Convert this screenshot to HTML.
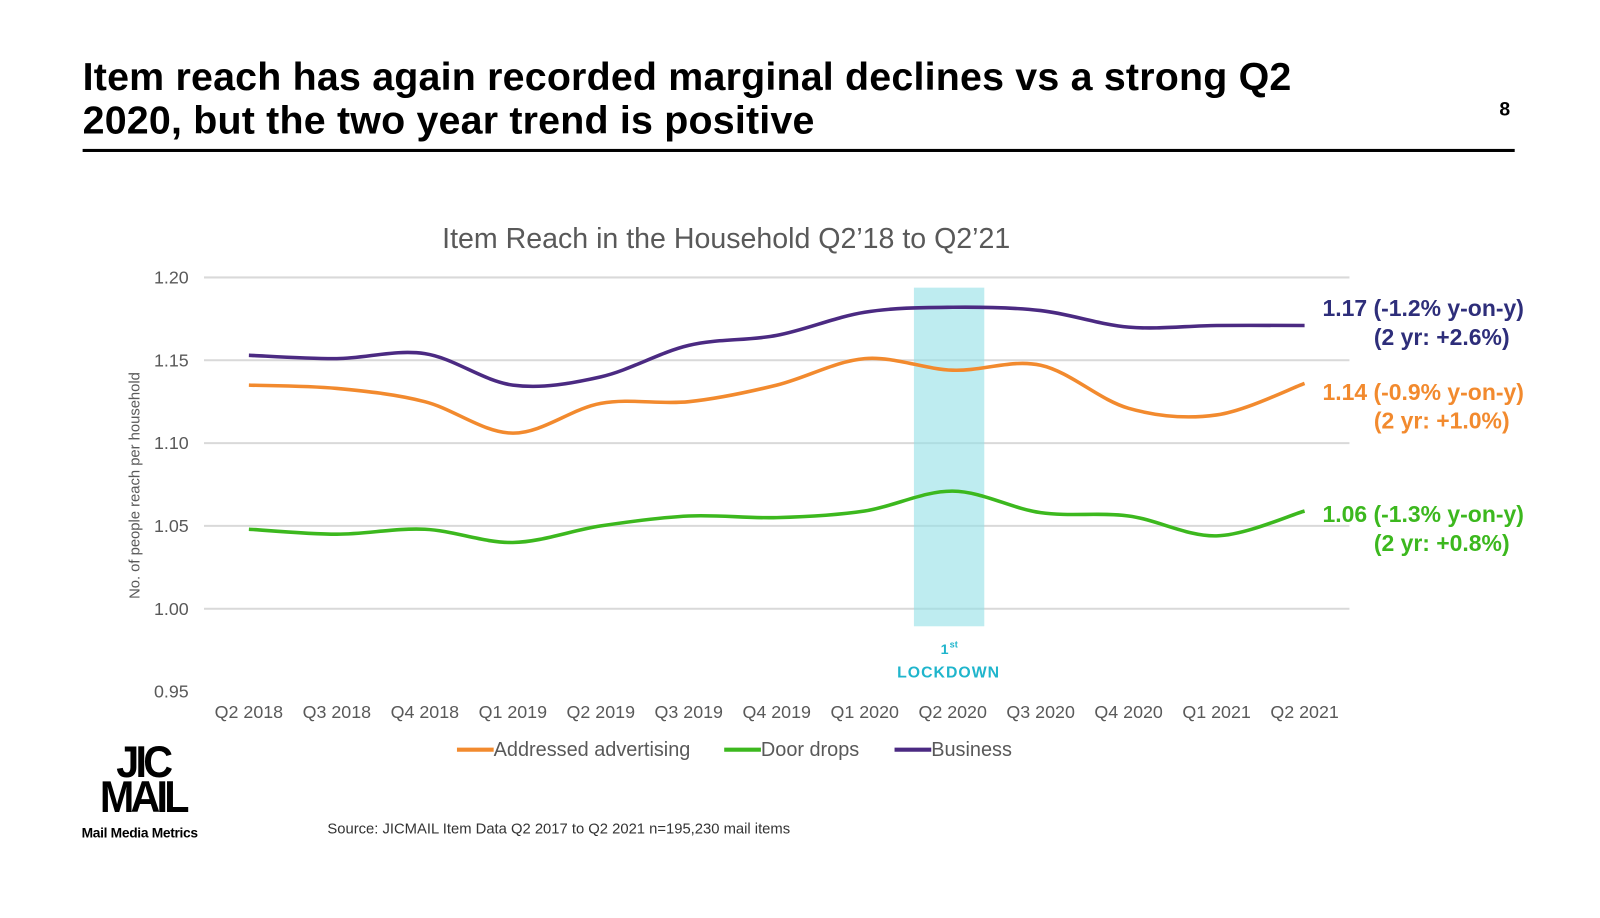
<!DOCTYPE html>
<html><head><meta charset="utf-8"><style>
body{margin:0;width:1600px;height:900px;background:#fff;font-family:"Liberation Sans",Arial,sans-serif;overflow:hidden;position:relative}
#wrap{position:absolute;left:0;top:0;width:1600px;height:900px;transform:scale(1.02);transform-origin:0 0}
.abs{position:absolute}
</style></head><body>
<div id="wrap">
<div class="abs" style="left:81px;top:54px;font-size:38.6px;font-weight:bold;line-height:43px;color:#000;letter-spacing:0.2px">Item reach has again recorded marginal declines vs a strong Q2<br>2020, but the two year trend is positive</div>
<div class="abs" style="left:1470px;top:97px;font-size:19px;font-weight:bold">8</div>
<div class="abs" style="left:81px;top:146px;width:1404px;height:3px;background:#000"></div>
<svg class="abs" style="left:0;top:0" width="1600" height="900" id="chart"></svg>
<div class="abs" style="left:92px;top:731px;width:96px;font-weight:900;font-size:44px;line-height:34px;letter-spacing:-4px;text-align:center;transform:scaleX(0.92)">JIC<br>MAIL</div>
<div class="abs" style="left:80px;top:809px;font-size:13.5px;font-weight:900;letter-spacing:-0.3px">Mail Media Metrics</div>
<div class="abs" style="left:321px;top:805px;font-size:14.5px;color:#333">Source: JICMAIL Item Data Q2 2017 to Q2 2021 n=195,230 mail items</div>
</div>
<script>
const categories=["Q2 2018","Q3 2018","Q4 2018","Q1 2019","Q2 2019","Q3 2019","Q4 2019","Q1 2020","Q2 2020","Q3 2020","Q4 2020","Q1 2021","Q2 2021"];
const business=[1.153,1.151,1.154,1.135,1.140,1.159,1.165,1.179,1.182,1.180,1.170,1.171,1.171];
const addressed=[1.135,1.133,1.125,1.106,1.124,1.125,1.135,1.151,1.144,1.147,1.121,1.117,1.136];
const doordrops=[1.048,1.045,1.048,1.040,1.050,1.056,1.055,1.059,1.071,1.058,1.056,1.044,1.059];
const yTicks=[0.95,1.00,1.05,1.10,1.15,1.20];
const yTickLabels=["0.95","1.00","1.05","1.10","1.15","1.20"];
const svg=document.getElementById('chart');const NS='http://www.w3.org/2000/svg';
const X=i=>244+i*86.25, Y=v=>272+(1.20-v)/0.25*406;
function mk(t,a,name){const e=document.createElementNS(NS,t);for(const k in a)e.setAttribute(k,a[k]);


svg.appendChild(e);return e;}
function txt(x,y,s,a,name){const e=mk('text',Object.assign({x:x,y:y},a),name);e.textContent=s;return e;}
txt(712,243,"Item Reach in the Household Q2’18 to Q2’21",{'font-size':28,fill:'#595959','text-anchor':'middle'},'chart-title');
yTicks.forEach((v,i)=>{if(v>0.96)mk('line',{x1:200,x2:1323,y1:Y(v),y2:Y(v),stroke:'#d9d9d9','stroke-width':2},'gridline');
txt(185,Y(v)+6,yTickLabels[i],{'font-size':17.5,fill:'#595959','text-anchor':'end'},'y-tick-label');});
categories.forEach((c,i)=>txt(X(i),704,c,{'font-size':17.5,fill:'#595959','text-anchor':'middle'},'x-tick-label'));
txt(0,0,"No. of people reach per household",{'font-size':14.5,fill:'#595959','text-anchor':'middle',transform:'translate(137,476) rotate(-90)'},'y-axis-title');
mk('rect',{x:896,y:282,width:69,height:332,fill:'#92dfe6','fill-opacity':0.6},'lockdown-band');
txt(930,641,"1",{'font-size':14,'font-weight':'bold',fill:'#1fb5cc','text-anchor':'end'},'lockdown-label');
txt(931,635,"st",{'font-size':9,'font-weight':'bold',fill:'#1fb5cc'},'lockdown-label-sup');
txt(930,664,"LOCKDOWN",{'font-size':15.5,'font-weight':'bold',fill:'#1fb5cc','text-anchor':'middle','letter-spacing':1},'lockdown-label');
function path(vals){const p=vals.map((v,i)=>[X(i),Y(v)]);let d='M'+p[0];
for(let i=0;i<p.length-1;i++){const p0=p[i-1]||p[i],p1=p[i],p2=p[i+1],p3=p[i+2]||p2;
d+=` C${p1[0]+(p2[0]-p0[0])/6},${p1[1]+(p2[1]-p0[1])/6} ${p2[0]-(p3[0]-p1[0])/6},${p2[1]-(p3[1]-p1[1])/6} ${p2[0]},${p2[1]}`;}return d;}
[[addressed,'#f28a2e','addressed-advertising-line'],[doordrops,'#3cb81e','door-drops-line'],[business,'#4b2a82','business-line']].forEach(s=>mk('path',{d:path(s[0]),fill:'none',stroke:s[1],'stroke-width':3.5},s[2]));
const ann=[["1.17 (-1.2% y-on-y)","(2 yr: +2.6%)",310,'#2e2e7a'],["1.14 (-0.9% y-on-y)","(2 yr: +1.0%)",392,'#f28a2e'],["1.06 (-1.3% y-on-y)","(2 yr: +0.8%)",512,'#3cb81e']];
ann.forEach(a=>{txt(1494,a[2],a[0],{'font-size':22.5,'font-weight':'bold',fill:a[3],'text-anchor':'end'},'end-annotation');
txt(1480,a[2]+28,a[1],{'font-size':22.5,'font-weight':'bold',fill:a[3],'text-anchor':'end'},'end-annotation');});
[["Addressed advertising",448,'#f28a2e'],["Door drops",710,'#3cb81e'],["Business",877,'#4b2a82']].forEach(l=>{
mk('line',{x1:l[1],x2:l[1]+36,y1:735,y2:735,stroke:l[2],'stroke-width':4},'legend-swatch');
txt(l[1]+36,741,l[0],{'font-size':19.5,fill:'#595959'},'legend-entry');});
</script>
</body></html>
